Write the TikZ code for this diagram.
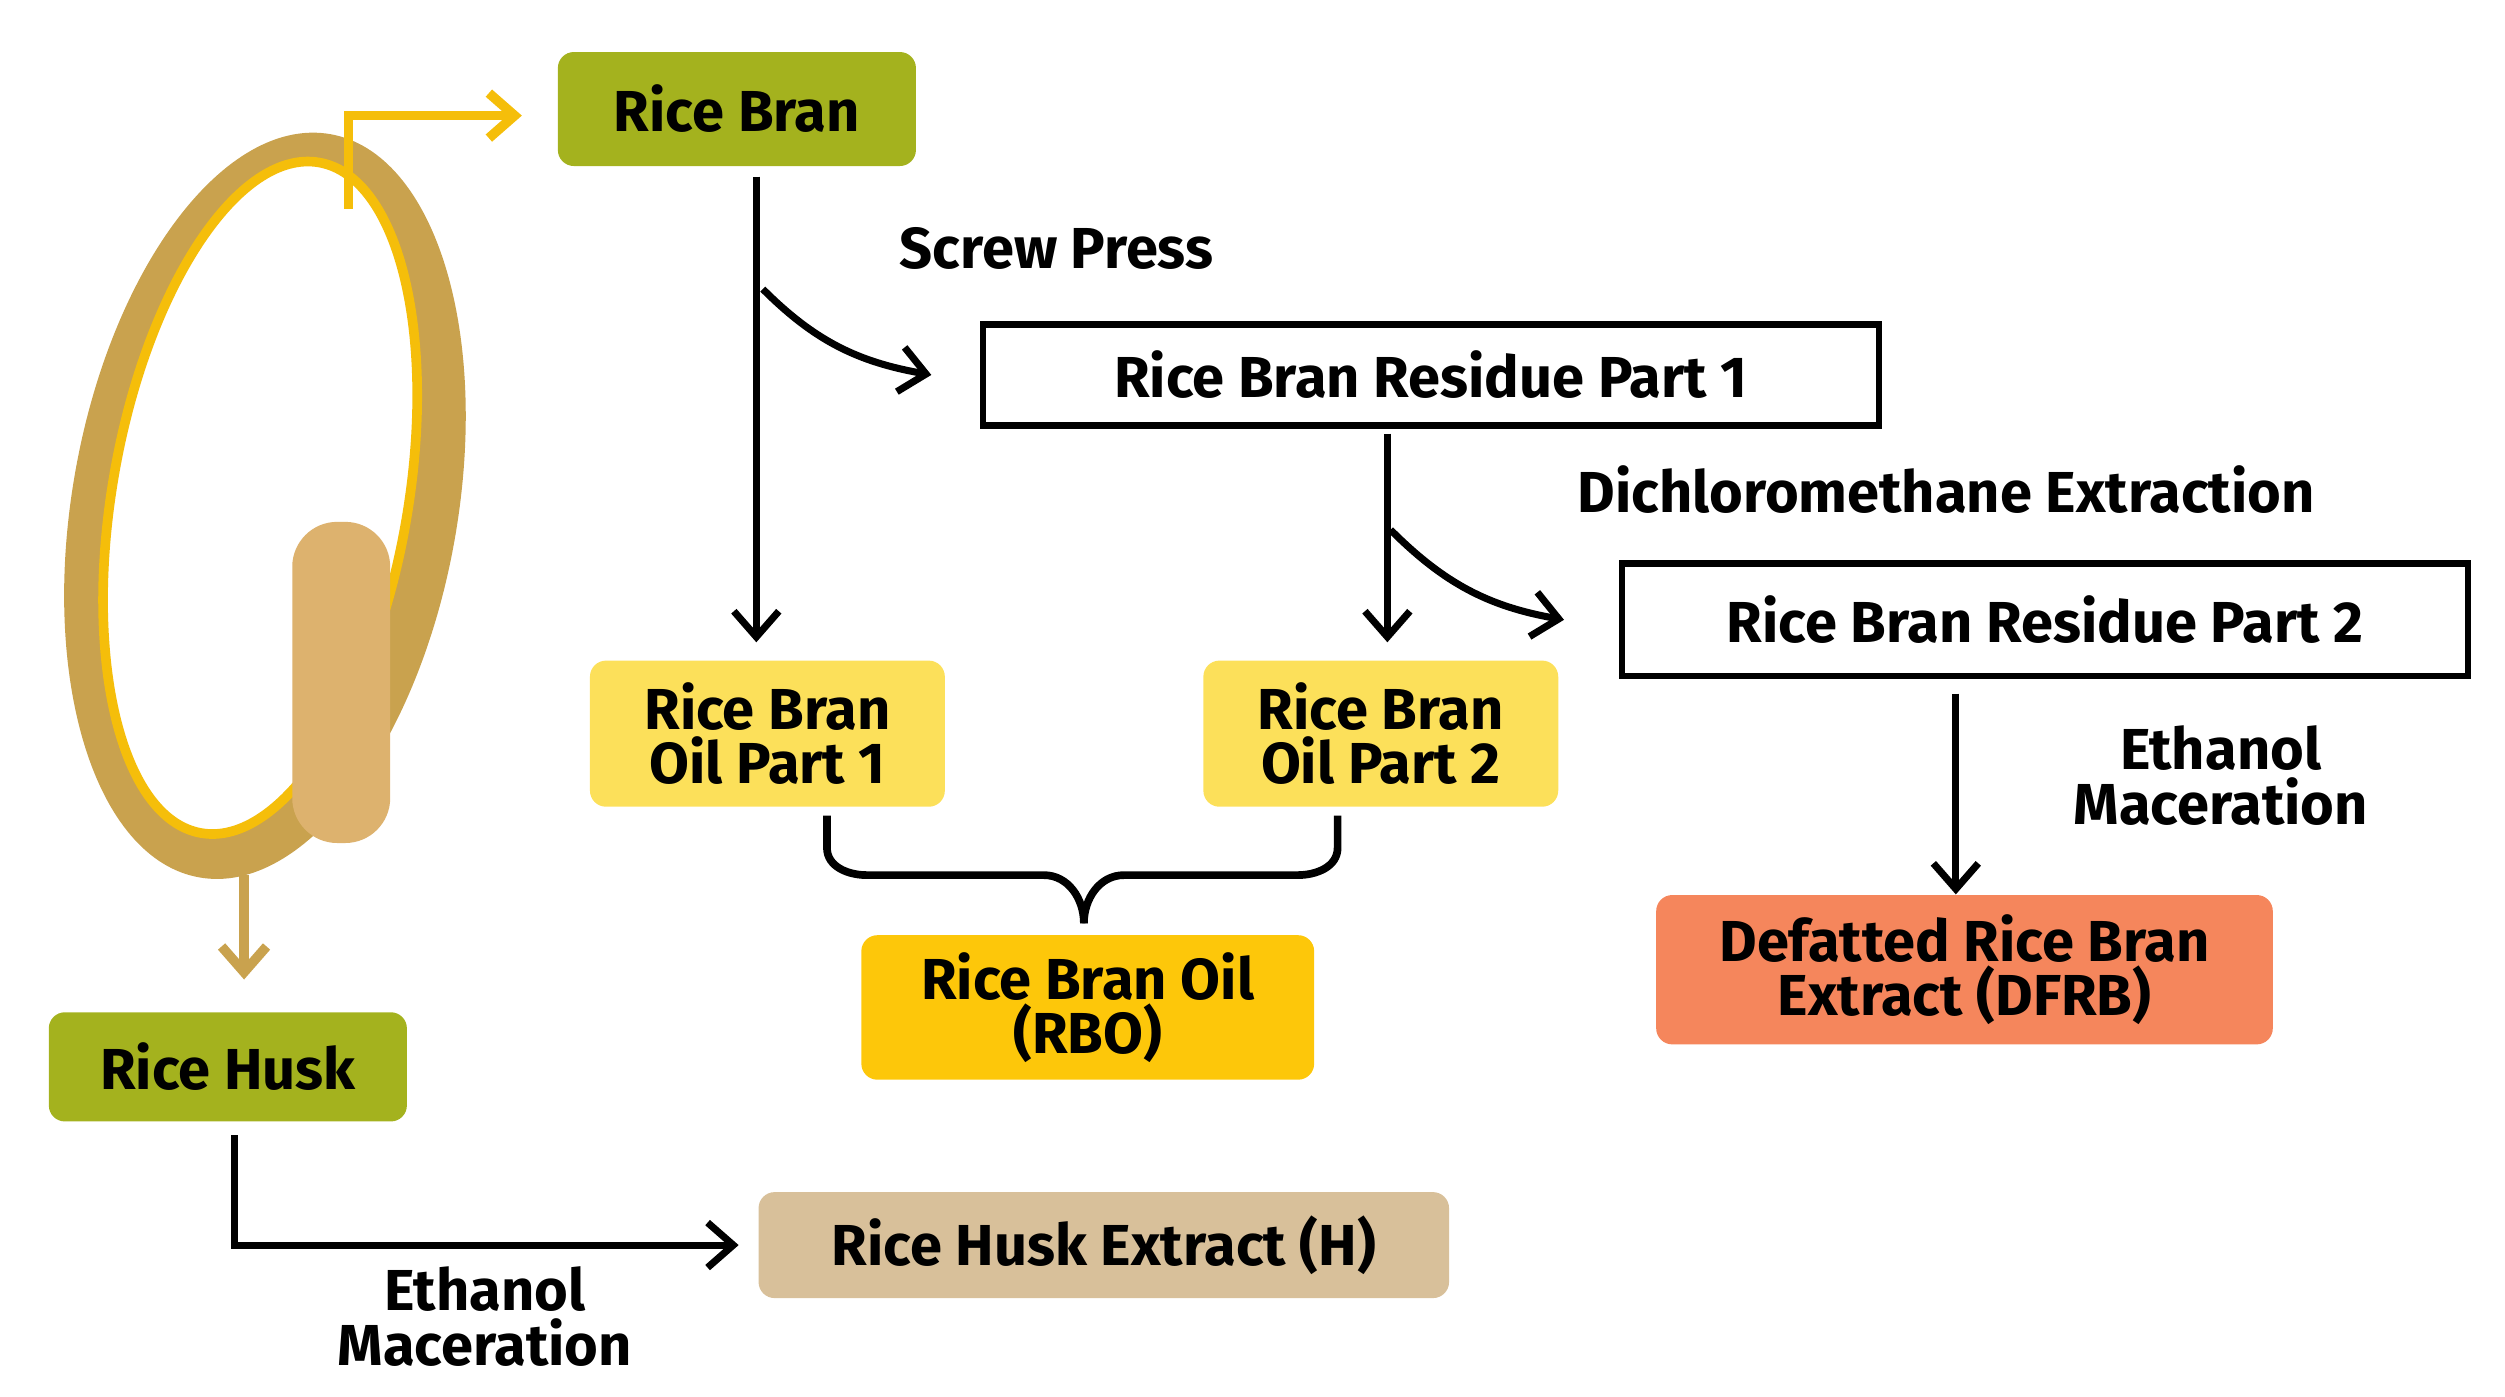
\documentclass[tikz,border=0pt]{standalone}
\usepackage{fontspec}
\setmainfont{Fira Sans}
\usetikzlibrary{arrows.meta}
\definecolor{olive}{HTML}{A4B21E}
\definecolor{lyel}{HTML}{FCE05A}
\definecolor{gold}{HTML}{FDC70A}
\definecolor{coral}{HTML}{F5865C}
\definecolor{beige}{HTML}{D8C09A}
\definecolor{husk}{HTML}{C9A24E}
\definecolor{embryo}{HTML}{DDB26E}
\definecolor{yline}{HTML}{F5BE0A}
\begin{document}
\begin{tikzpicture}[x=0.5pt,y=-0.5pt,
  lab/.style={font=\fontsize{18}{17}\selectfont\bfseries,align=center},
  box/.style={lab,rounded corners=5pt,inner sep=0pt,anchor=north west},
  wbox/.style={lab,draw=black,line width=2pt,inner sep=0pt,anchor=north west,fill=white},
  arr/.style={-{Straight Barb[length=8pt,width=14pt]},line width=2.2pt}]
\useasboundingbox (0,0) rectangle (1560,870);
% grain
\fill[husk,rotate around={-10:(165,315)}] (165,315) ellipse[x radius=120,y radius=235];
\fill[white,draw=yline,line width=3pt,rotate around={-10:(162,310)}] (162,310) ellipse[x radius=92,y radius=212];
\fill[embryo,rounded corners=14pt] (182,325) rectangle (243,525);
\coordinate (ys) at (217,130);
\coordinate (ts) at (152,545);
% nodes
\node[box,fill=olive,minimum width=111.5pt,minimum height=35.5pt] (rb) at (347,32) {Rice Bran};
\node[box,fill=olive,minimum width=111.5pt,minimum height=34pt] (rh) at (30,630) {Rice Husk};
\node[wbox,minimum width=279pt,minimum height=31.5pt] (r1) at (610,200) {Rice Bran Residue Part 1};
\node[wbox,minimum width=263.5pt,minimum height=35pt] (r2) at (1008,349) {Rice Bran Residue Part 2};
\node[box,fill=lyel,minimum width=110.5pt,minimum height=45.5pt] (o1) at (367,411) {Rice Bran\\Oil Part 1};
\node[box,fill=lyel,minimum width=110.5pt,minimum height=45.5pt] (o2) at (749,411) {Rice Bran\\Oil Part 2};
\node[box,fill=gold,minimum width=141pt,minimum height=45pt] (rbo) at (536,582) {Rice Bran Oil\\(RBO)};
\node[box,fill=coral,minimum width=192pt,minimum height=46.5pt] (df) at (1031,557) {Defatted Rice Bran\\Extract (DFRB)};
\node[box,fill=beige,minimum width=215pt,minimum height=33pt] (he) at (472,742) {Rice Husk Extract (H)};
\node[lab] (sp) at (658,155) {Screw Press};
\node[lab] (dc) at (1212,305) {Dichloromethane Extraction};
\node[lab] (em1) at (1383,483) {Ethanol\\Maceration};
\node[lab] (em2) at (302,820) {Ethanol\\Maceration};
% connectors
\draw[arr,yline,line width=3pt] (ys) |- ([xshift=-11pt]rb.west |- 0,72);
\draw[arr,husk,line width=3pt] (ts) -- (152,610);
\draw[arr] (471,110) -- (471,400);
\draw[arr] (475,180) to[out=-45,in=170] ([xshift=-15pt]r1.west);
\draw[arr] (864,270) -- (864,400);
\draw[arr] (866,330) to[out=-45,in=170] ([xshift=-17pt]r2.west);
\draw[arr] (1218,432) -- (df.north -| 1218,0);
\draw[arr] (146,707) |- ([xshift=-6pt]he.west);
\draw[line width=2.4pt] (515,508) -- (515,528) to[out=-90,in=180] (540,545) -- (650,545) to[out=0,in=90] (675,575);
\draw[line width=2.4pt] (833,508) -- (833,528) to[out=-90,in=0] (808,545) -- (700,545) to[out=180,in=90] (675,575);
\end{tikzpicture}
\end{document}
